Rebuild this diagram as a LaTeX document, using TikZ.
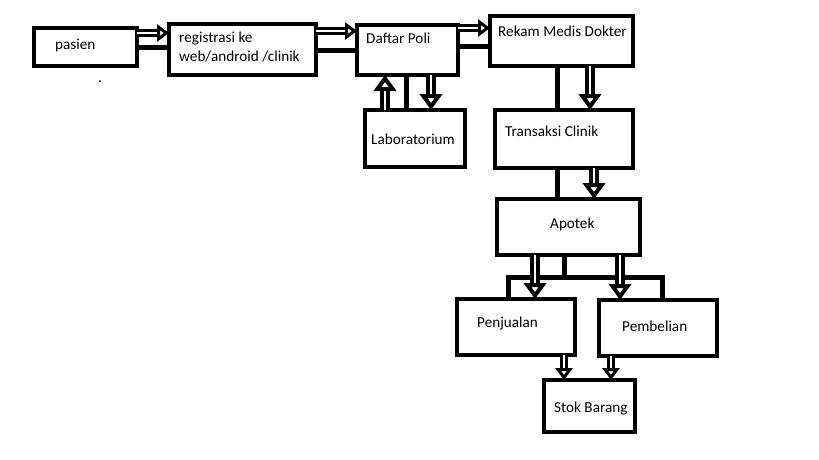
\documentclass[tikz,border=0pt]{standalone}
\usepackage{fontspec}
\setmainfont{Carlito}
\usetikzlibrary{arrows.meta}
\begin{document}
\begin{tikzpicture}[x=1pt,y=-1pt,
  box/.style={draw, line width=4.5pt, rectangle, outer sep=0pt, inner sep=0pt},
  lbl/.style={anchor=base west, inner sep=0pt, font=\fontsize{15.2}{18}\selectfont},
  plain/.style={line width=5pt},
  hollow/.style={line width=4pt, double=white, double distance=2.5pt,
    -{Triangle[open, length=16pt, width=22pt, line width=4pt]}},
  hsmall/.style={line width=3pt, double=white, double distance=1.5pt,
    -{Triangle[open, length=12pt, width=17pt, line width=3.5pt]}}]
\useasboundingbox (0,0) rectangle (819,460);
\fill[white] (0,0) rectangle (819,460);
% boxes
\node[box, minimum width=103pt, minimum height=38pt] (pasien) at (85.5,47) {};
\node[box, minimum width=147pt, minimum height=51pt] (reg) at (242.5,49.5) {};
\node[box, minimum width=101pt, minimum height=50pt] (daftar) at (407.5,50) {};
\node[box, minimum width=143pt, minimum height=50pt] (rekam) at (561.5,41) {};
\node[box, minimum width=100pt, minimum height=57pt] (lab) at (415,138.5) {};
\node[box, minimum width=138pt, minimum height=58pt] (trans) at (564,139) {};
\node[box, minimum width=143pt, minimum height=56pt] (apotek) at (568.5,227) {};
\node[box, minimum width=118pt, minimum height=56pt] (penj) at (516,327) {};
\node[box, minimum width=118pt, minimum height=56pt] (pemb) at (658,328) {};
\node[box, minimum width=91pt, minimum height=52pt] (stok) at (589.5,406) {};
% labels
\node[lbl] (tpasien) at (55,50) {pasien};
\node[lbl] (treg1) at (179,43) {registrasi ke};
\node[lbl] (treg2) at (179,62) {web/android /clinik};
\node[lbl] (tdaftar) at (366,44) {Daftar Poli};
\node[lbl] (trekam) at (498,37) {Rekam Medis Dokter};
\node[lbl] (tlab) at (371,144) {Laboratorium};
\node[lbl] (ttrans) at (505,136) {Transaksi Clinik};
\node[lbl] (tapotek) at (550,228) {Apotek};
\node[lbl] (tpenj) at (477,327) {Penjualan};
\node[lbl] (tpemb) at (622,331) {Pembelian};
\node[lbl] (tstok) at (554,412) {Stok Barang};
\node[lbl] (dot) at (98,82) {.};
% connectors top row
\draw[hsmall] (pasien.east |- 0,33) -- (reg.west |- 0,33);
\draw[plain] (pasien.east |- 0,48) -- (reg.west |- 0,48);
\draw[hsmall] (reg.east |- 0,31) -- (daftar.west |- 0,31);
\draw[plain] (reg.east |- 0,51) -- (daftar.west |- 0,51);
\draw[hsmall] (daftar.east |- 0,28) -- (rekam.west |- 0,28);
\draw[plain] (daftar.east |- 0,47) -- (rekam.west |- 0,47);
% daftar <-> lab
\draw[hollow] (lab.north -| 385,0) -- (daftar.south -| 385,0);
\draw[plain] (daftar.south -| 406,0) -- (lab.north -| 406,0);
\draw[hollow] (daftar.south -| 431,0) -- (lab.north -| 431,0);
% rekam -> trans
\draw[plain] (rekam.south -| 557,0) -- (trans.north -| 557,0);
\draw[hollow] (rekam.south -| 590,0) -- (trans.north -| 590,0);
% trans -> apotek
\draw[plain] (trans.south -| 557,0) -- (apotek.north -| 557,0);
\draw[hollow] (trans.south -| 594,0) -- (apotek.north -| 594,0);
% apotek -> penj, pemb
\coordinate (split) at (564,277);
\draw[plain] (apotek.south -| split) -- (split);
\draw[plain] (penj.north -| 508,0) |- (split) -| (pemb.north -| 662,0);
\draw[hollow] (apotek.south -| 535,0) -- (penj.north -| 535,0);
\draw[hollow] (apotek.south -| 620,0) -- (pemb.north -| 620,0);
% to stok
\draw[hsmall] (penj.south -| 564,0) -- (stok.north -| 564,0);
\draw[hsmall] (pemb.south -| 611,0) -- (stok.north -| 611,0);
\end{tikzpicture}
\end{document}
